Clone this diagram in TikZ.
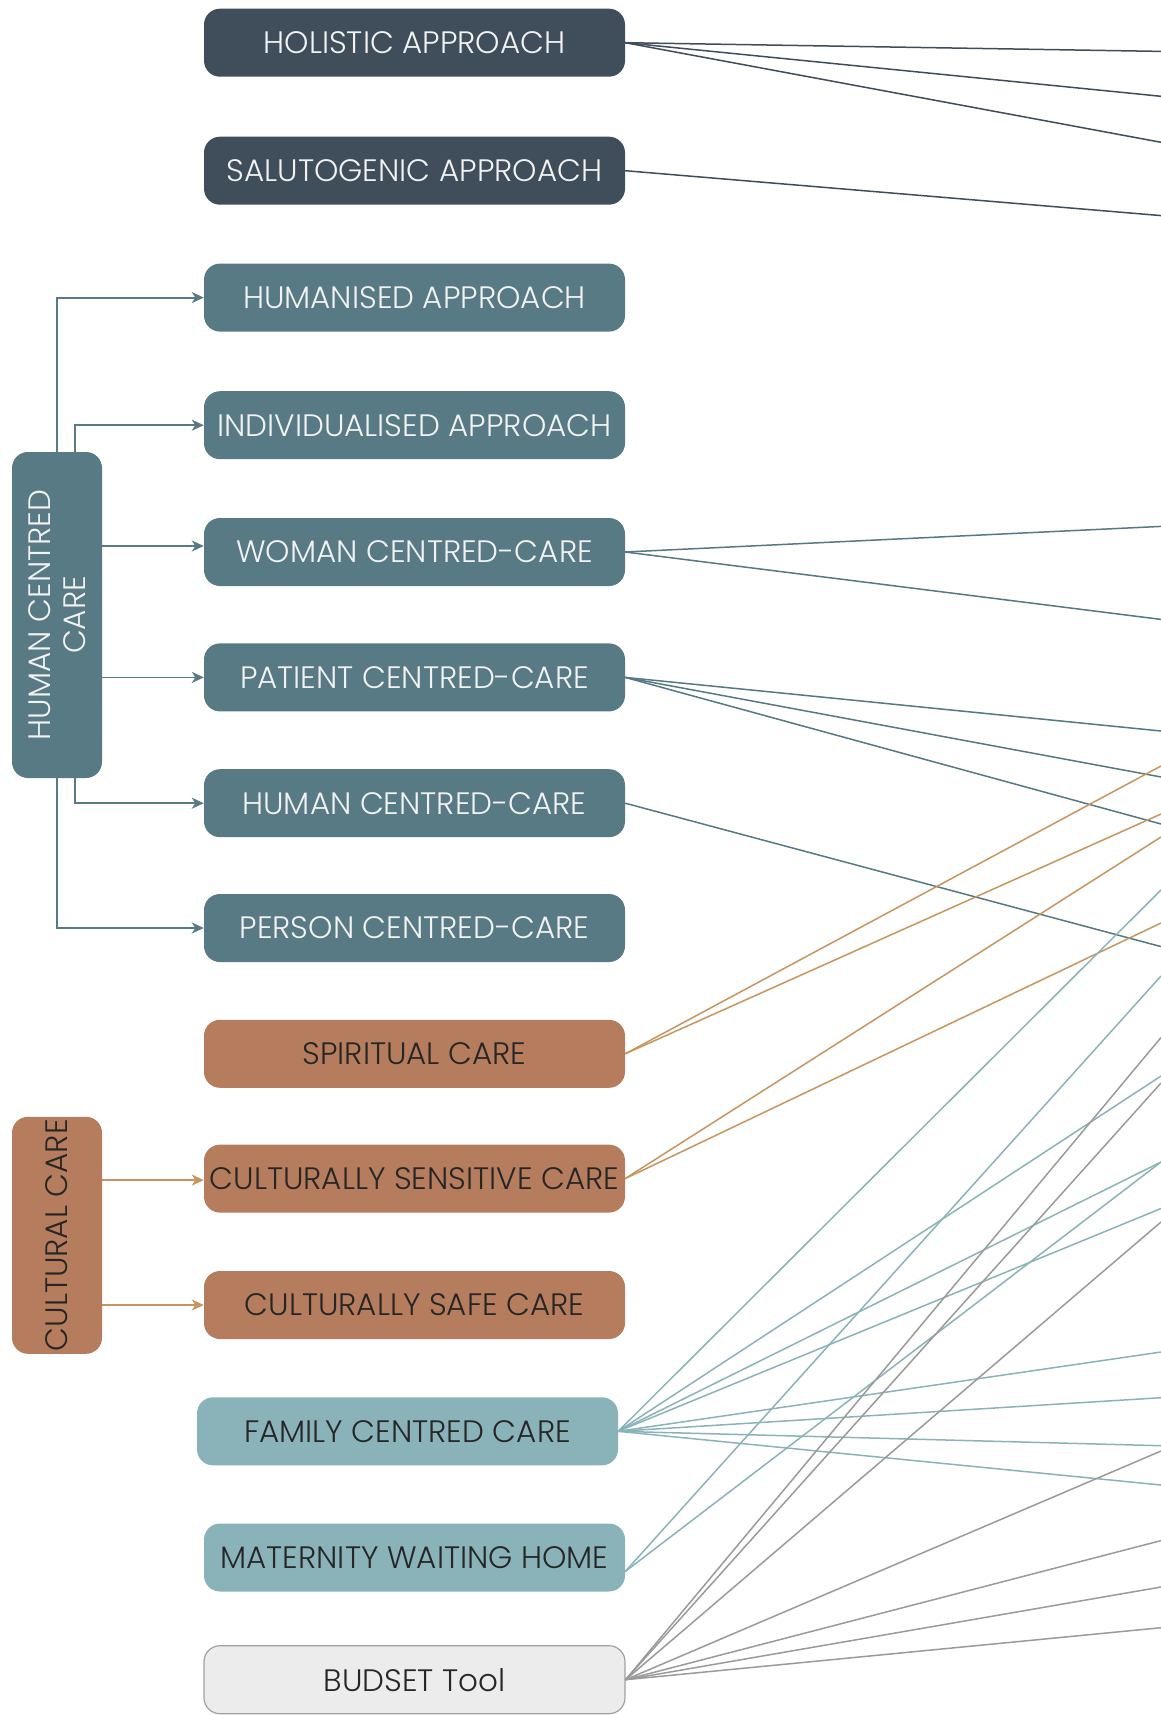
\documentclass[tikz,border=0pt]{standalone}
\usepackage{fontspec}
\setmainfont{Poppins}[UprightFont={* Light}]
\usetikzlibrary{arrows.meta}

\definecolor{slatebg}{HTML}{404E5C}
\definecolor{slateln}{HTML}{3F4D5A}
\definecolor{tealbg}{HTML}{587A84}
\definecolor{tealln}{HTML}{567883}
\definecolor{brownbg}{HTML}{B57D5D}
\definecolor{brownln}{HTML}{C8955F}
\definecolor{ltealbg}{HTML}{8AB3B9}
\definecolor{ltealln}{HTML}{8AB3B9}
\definecolor{greybg}{HTML}{EBECEB}
\definecolor{greybd}{HTML}{A0A0A0}
\definecolor{greyln}{HTML}{9A9A9A}
\definecolor{lighttxt}{HTML}{F2F2F2}
\definecolor{darktxt}{HTML}{262626}

\newcommand{\labelfont}{\fontsize{31}{36}\selectfont}
\newcommand{\groupfont}{\fontsize{31}{35}\selectfont}

\tikzset{
  card/.style={rounded corners=16pt, minimum width=421pt, minimum height=68pt,
    inner sep=0pt, font=\labelfont},
  slatecard/.style={card, fill=slatebg, text=lighttxt},
  tealcard/.style={card, fill=tealbg, text=lighttxt},
  browncard/.style={card, fill=brownbg, text=darktxt},
  ltealcard/.style={card, fill=ltealbg, text=darktxt},
  greycard/.style={card, fill=greybg, draw=greybd, line width=1.2pt, text=darktxt},
  groupcard/.style={rounded corners=16pt, minimum width=90pt, inner sep=0pt},
  grouptext/.style={rotate=90, align=center, font=\groupfont, inner sep=0pt},
  link/.style={line width=1.5pt},
  feed/.style={line width=1.8pt, -{Stealth[length=12pt,width=11pt,inset=3.5pt]}},
}

\begin{document}
\begin{tikzpicture}[x=1pt,y=-1pt]
\useasboundingbox (0,0) rectangle (1161,1715);

% concept cards
\node[slatecard] (holistic)  at (414.5,42.7)  {HOLISTIC APPROACH};
\node[slatecard] (saluto)    at (414.5,170.7) {SALUTOGENIC APPROACH};
\node[tealcard]  (humanised) at (414.5,297.6) {HUMANISED APPROACH};
\node[tealcard]  (individ)   at (414.5,425.2) {INDIVIDUALISED APPROACH};
\node[tealcard]  (woman)     at (414.5,552.0) {WOMAN CENTRED-CARE};
\node[tealcard]  (patient)   at (414.5,677.4) {PATIENT CENTRED-CARE};
\node[tealcard]  (humancc)   at (414.5,803.2) {HUMAN CENTRED-CARE};
\node[tealcard]  (person)    at (414.5,928.0) {PERSON CENTRED-CARE};
\node[browncard] (spiritual) at (414.5,1053.8) {SPIRITUAL CARE};
\node[browncard] (cultsens)  at (414.5,1178.6) {CULTURALLY SENSITIVE CARE};
\node[browncard] (cultsafe)  at (414.5,1305.0) {CULTURALLY SAFE CARE};
\node[ltealcard] (family)    at (407.5,1431.3) {FAMILY CENTRED CARE};
\node[ltealcard] (maternity) at (414.5,1557.5) {MATERNITY WAITING HOME};
\node[greycard]  (budset)    at (414.5,1679.7) {BUDSET Tool};

% grouping cards on the left
\node[groupcard, fill=tealbg, minimum height=326pt] (hcc) at (57,615) {};
\node[grouptext, text=lighttxt] at (hcc) {HUMAN CENTRED\\CARE};
\node[groupcard, fill=brownbg, minimum height=237pt] (cc) at (57,1235.3) {};
\node[grouptext, text=darktxt] at (cc) {CULTURAL CARE};

% group feeds
\coordinate (wfeed) at ([yshift=6pt]woman.west);
\draw[feed, tealbg] (hcc.north) |- (humanised.west);
\draw[feed, tealbg] ([xshift=18pt]hcc.north) |- (individ.west);
\draw[feed, tealbg] (hcc.east |- wfeed) -- (wfeed);
\draw[feed, tealbg] (hcc.east |- patient.west) -- (patient.west);
\draw[feed, tealbg] ([xshift=18pt]hcc.south) |- (humancc.west);
\draw[feed, tealbg] (hcc.south) |- (person.west);
\coordinate (sfeed) at ([yshift=-1.5pt]cultsens.west);
\draw[feed, brownln] (cc.east |- sfeed) -- (sfeed);
\draw[feed, brownln] (cc.east |- cultsafe.west) -- (cultsafe.west);

% free ends on the right border
\coordinate (r01) at (1161,51.4);
\coordinate (r02) at (1161,96.3);
\coordinate (r03) at (1161,142.3);
\coordinate (r04) at (1161,215.6);
\coordinate (r05) at (1161,526.4);
\coordinate (r06) at (1161,619.4);
\coordinate (r07) at (1161,731);
\coordinate (r08) at (1161,777);
\coordinate (r09) at (1161,824);
\coordinate (r10) at (1161,946.6);
\coordinate (r11) at (1161,766);
\coordinate (r12) at (1161,814);
\coordinate (r13) at (1161,837);
\coordinate (r14) at (1161,923);
\coordinate (r15) at (1161,890);
\coordinate (r16) at (1161,1076);
\coordinate (r17) at (1161,1162);
\coordinate (r18) at (1161,1208.5);
\coordinate (r19) at (1161,1352);
\coordinate (r20) at (1161,1397.7);
\coordinate (r21) at (1161,1445.7);
\coordinate (r22) at (1161,1485);
\coordinate (r23) at (1161,976);
\coordinate (r24) at (1161,1037.5);
\coordinate (r25) at (1161,1083);
\coordinate (r26) at (1161,1222);
\coordinate (r27) at (1161,1451);
\coordinate (r28) at (1161,1540.6);
\coordinate (r29) at (1161,1587);
\coordinate (r30) at (1161,1627.7);

% outgoing links
\draw[link, slateln] (holistic.east) -- (r01);
\draw[link, slateln] (holistic.east) -- (r02);
\draw[link, slateln] (holistic.east) -- (r03);
\draw[link, slateln] (saluto.east) -- (r04);

\draw[link, tealln] (woman.east) -- (r05);
\draw[link, tealln] (woman.east) -- (r06);
\draw[link, tealln] (patient.east) -- (r07);
\draw[link, tealln] (patient.east) -- (r08);
\draw[link, tealln] (patient.east) -- (r09);
\draw[link, tealln] (humancc.east) -- (r10);

\draw[link, brownln] (spiritual.east) -- (r11);
\draw[link, brownln] (spiritual.east) -- (r12);
\draw[link, brownln] (cultsens.east) -- (r13);
\draw[link, brownln] (cultsens.east) -- (r14);

\draw[link, ltealln] (family.east) -- (r15);
\draw[link, ltealln] (family.east) -- (r16);
\draw[link, ltealln] (family.east) -- (r17);
\draw[link, ltealln] (family.east) -- (r18);
\draw[link, ltealln] (family.east) -- (r19);
\draw[link, ltealln] (family.east) -- (r20);
\draw[link, ltealln] (family.east) -- (r21);
\draw[link, ltealln] (family.east) -- (r22);
\coordinate (mout) at ([yshift=-14pt]maternity.east);
\draw[link, ltealln] (mout) -- (r23);
\draw[link, ltealln] (mout) -- (r17);

\draw[link, greyln] (budset.east) -- (r24);
\draw[link, greyln] (budset.east) -- (r25);
\draw[link, greyln] (budset.east) -- (r26);
\draw[link, greyln] (budset.east) -- (r27);
\draw[link, greyln] (budset.east) -- (r28);
\draw[link, greyln] (budset.east) -- (r29);
\draw[link, greyln] (budset.east) -- (r30);
\end{tikzpicture}
\end{document}
